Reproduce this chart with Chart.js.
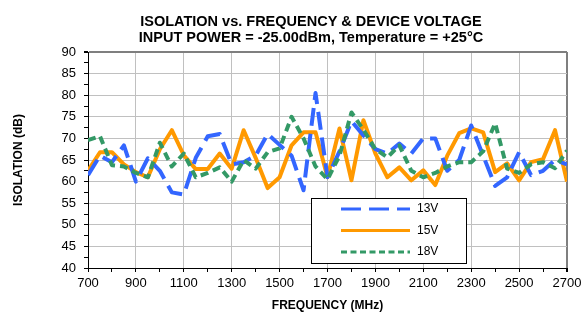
<!DOCTYPE html>
<html>
<head>
<meta charset="utf-8">
<script src="https://cdn.jsdelivr.net/npm/chart.js@4/dist/chart.umd.min.js"></script>
<style>
  html, body { margin: 0; padding: 0; background: #fff; }
  #wrap { width: 586px; height: 315px; }
</style>
</head>
<body>
<div id="wrap"><canvas id="c" width="586" height="315"></canvas></div>
<script>
// frequency points (MHz)
const freqs = [700, 750, 800, 850, 900, 950, 1000, 1050, 1100, 1150,
               1200, 1250, 1300, 1350, 1400, 1450, 1500, 1550, 1600, 1650,
               1700, 1750, 1800, 1850, 1900, 1950, 2000, 2050, 2100, 2150,
               2200, 2250, 2300, 2350, 2400, 2450, 2500, 2550, 2600, 2650, 2700];

// isolation (dB)
const iso13V = [61.5, 66, 64.5, 68.4, 60, 65.4, 62.5, 57.5, 57, 65.5,
                70.5, 71, 64, 64.5, 66, 71, 68.5, 66, 58, 80.5,
                61, 67, 74, 70.7, 67.5, 66.5, 68.8, 66.5, 70, 70,
                62.5, 65, 73, 66, 59, 61, 66.8, 61.5, 62.5, 65, 64];
const iso15V = [62.5, 66.8, 66.8, 64, 62.2, 61, 67.5, 71.9, 66.1, 62.9,
                62.9, 66.5, 63, 71.9, 65.5, 58.5, 61, 68.4, 71.4, 71.4,
                61, 72.3, 60.3, 74.2, 66.5, 61, 63.3, 60.3, 62.6, 59.2,
                66, 71.2, 72.3, 71.4, 62.2, 64.2, 60.3, 64.5, 65.2, 71.9, 60];
const iso18V = [69.6, 70.5, 63.8, 63.5, 62, 61, 69, 63.5, 66.5, 61,
                62, 63.3, 60, 65, 63, 66.8, 67.7, 75, 70, 63.5,
                60.5, 66, 76, 72, 67.5, 65.6, 68.4, 62.5, 61, 62,
                63.5, 64.5, 64.5, 67, 73.5, 63, 62, 64, 64.5, 63.1, 67.2];

const seriesNames = ['13V', '15V', '18V'];
const titleLines = ['ISOLATION vs. FREQUENCY & DEVICE VOLTAGE',
                    'INPUT POWER = -25.00dBm, Temperature = +25\u00B0C'];

const FONT = "'Liberation Sans', Arial, sans-serif";

const pts = arr => arr.map((v, i) => ({x: freqs[i], y: v}));

// two-line heading above the plot
const heading = {
  id: 'heading',
  afterDraw(chart) {
    const ctx = chart.ctx;
    ctx.save();
    ctx.fillStyle = '#000';
    ctx.font = 'bold 14.5px ' + FONT;
    ctx.textAlign = 'center';
    ctx.textBaseline = 'middle';
    ctx.fillText(titleLines[0], 311, 22);
    ctx.fillText(titleLines[1], 311, 38);
    ctx.restore();
  }
};

// boxed legend sitting inside the plot, like the original
const boxLegend = {
  id: 'boxLegend',
  afterDraw(chart) {
    const ctx = chart.ctx;
    ctx.save();
    ctx.fillStyle = '#fff';
    ctx.fillRect(311, 198, 155, 65);
    ctx.strokeStyle = '#000';
    ctx.lineWidth = 1;
    ctx.strokeRect(311.5, 198.5, 155, 65);
    const dashes = [[20, 8], [], [6, 3.5]];
    seriesNames.forEach((name, i) => {
      const ds = chart.data.datasets[i];
      const y = 209 + i * 21.5;
      ctx.beginPath();
      ctx.setLineDash(dashes[i]);
      ctx.strokeStyle = ds.borderColor;
      ctx.lineWidth = 3;
      ctx.moveTo(341, y);
      ctx.lineTo(410, y);
      ctx.stroke();
      ctx.setLineDash([]);
      ctx.fillStyle = '#000';
      ctx.font = '12px ' + FONT;
      ctx.textAlign = 'left';
      ctx.textBaseline = 'middle';
      ctx.fillText(name, 417, y);
    });
    ctx.restore();
  }
};

new Chart(document.getElementById('c'), {
  type: 'line',
  data: {
    datasets: [
      {
        label: seriesNames[0],
        data: pts(iso13V),
        borderColor: '#3366ff',
        borderWidth: 4,
        borderDash: [18, 8],
        order: 1
      },
      {
        label: seriesNames[1],
        data: pts(iso15V),
        borderColor: '#ff9900',
        borderWidth: 4,
        order: 2
      },
      {
        label: seriesNames[2],
        data: pts(iso18V),
        borderColor: '#339966',
        borderWidth: 4,
        borderDash: [8, 5],
        order: 0
      }
    ]
  },
  options: {
    responsive: false,
    animation: false,
    devicePixelRatio: 1,
    elements: {
      point: { radius: 0 },
      line: { tension: 0, fill: false, borderJoinStyle: 'round' }
    },
    layout: { padding: { top: 52, right: 19, left: 0, bottom: 0 } },
    plugins: {
      legend: { display: false },
      title: { display: false },
      tooltip: { enabled: false }
    },
    scales: {
      x: {
        type: 'linear',
        min: 700,
        max: 2700,
        afterFit: s => { s.height = 47; },
        ticks: {
          stepSize: 100,
          autoSkip: false,
          maxRotation: 0,
          padding: 4,
          color: '#000',
          font: { family: FONT, size: 13 },
          callback: v => ((v - 700) % 200 === 0 ? v : '')
        },
        grid: {
          tickLength: 4,
          tickColor: '#000',
          color: c => {
            const v = c.tick ? c.tick.value : 0;
            if (v === 2700) return '#7f7f7f';
            return (v - 700) % 200 === 0 ? '#c0c0c0' : 'rgba(0,0,0,0)';
          },
          lineWidth: c => (c.tick && c.tick.value === 2700 ? 2 : 1)
        },
        border: { color: '#000', width: 1 },
        title: {
          display: true,
          text: 'FREQUENCY (MHz)',
          color: '#000',
          font: { family: FONT, size: 12, weight: 'bold' },
          padding: { top: 4, bottom: 2 }
        }
      },
      y: {
        min: 40,
        max: 90,
        afterFit: s => { s.width = 88; },
        ticks: {
          stepSize: 2.5,
          autoSkip: false,
          padding: 8,
          color: '#000',
          font: { family: FONT, size: 13 },
          callback: v => (v % 5 === 0 ? v : '')
        },
        grid: {
          tickLength: 4,
          tickColor: '#000',
          color: c => {
            const v = c.tick ? c.tick.value : 0;
            if (v === 90) return '#7f7f7f';
            return v % 5 === 0 ? '#c0c0c0' : 'rgba(0,0,0,0)';
          },
          lineWidth: c => (c.tick && c.tick.value === 90 ? 2 : 1)
        },
        border: { color: '#000', width: 1 },
        title: {
          display: true,
          text: 'ISOLATION (dB)',
          color: '#000',
          font: { family: FONT, size: 12, weight: 'bold' },
          padding: { top: 11, bottom: 0 }
        }
      }
    }
  },
  plugins: [heading, boxLegend]
});
</script>
</body>
</html>
